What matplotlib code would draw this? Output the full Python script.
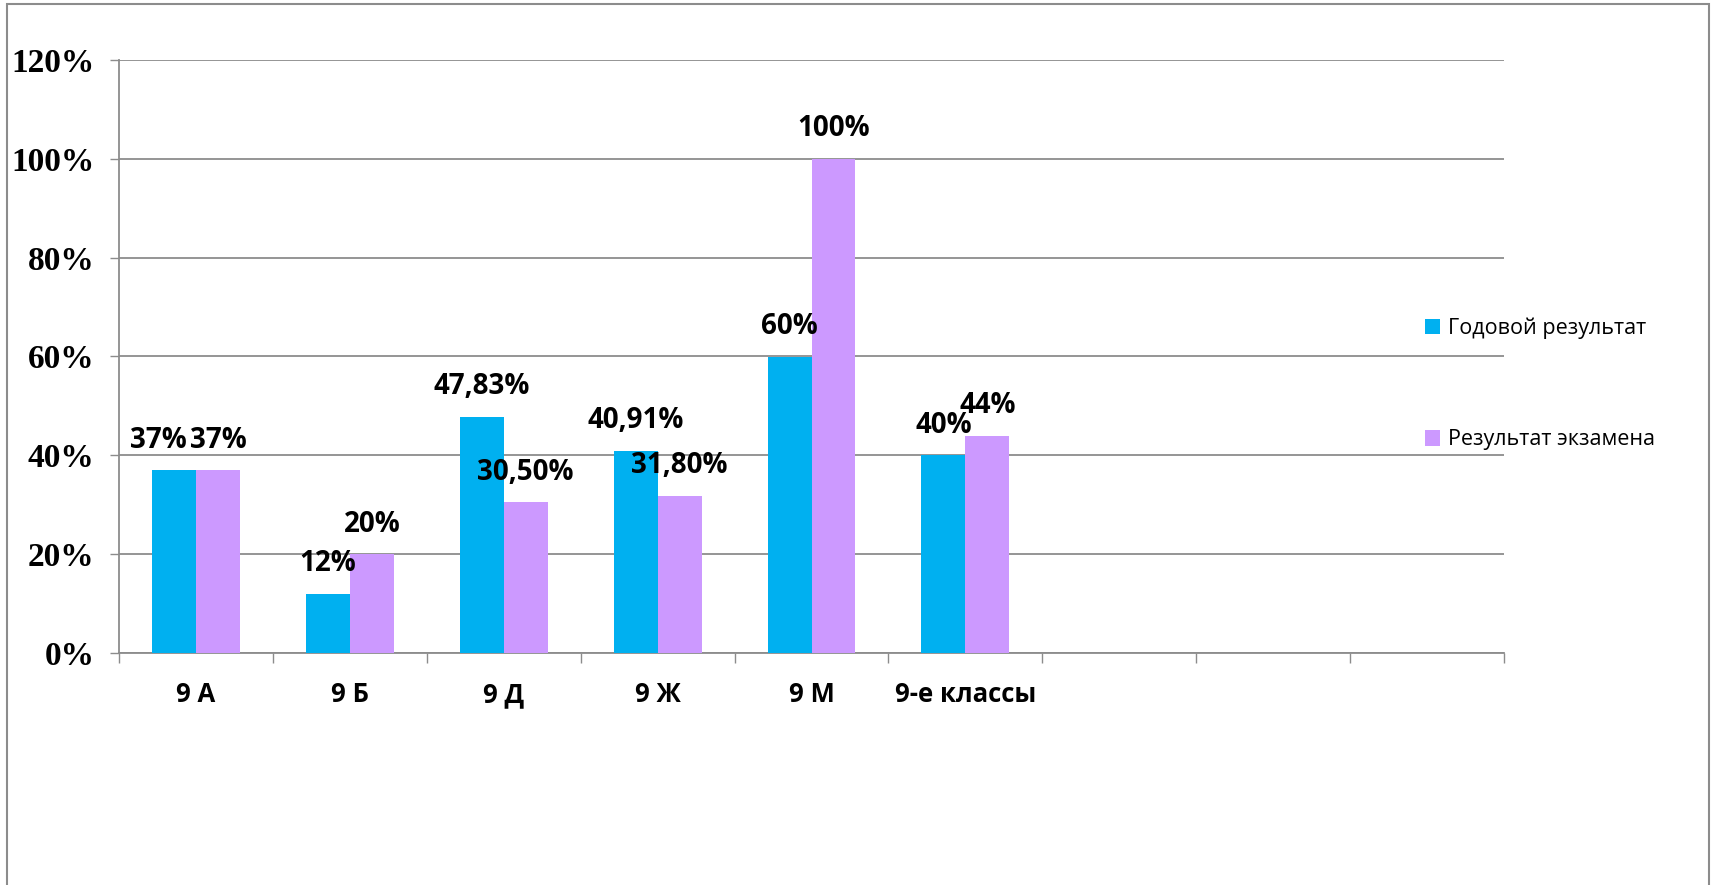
import matplotlib
matplotlib.use("Agg")
import numpy as np
from matplotlib import pyplot as plt
from matplotlib.patches import Rectangle
from matplotlib.ticker import FuncFormatter, MultipleLocator

# Chart data
categories = ["9 А", "9 Б", "9 Д", "9 Ж", "9 М", "9-е классы", "", "", ""]
year_result = [0.37, 0.12, 0.4783, 0.4091, 0.60, 0.40]
exam_result = [0.37, 0.20, 0.305, 0.318, 1.00, 0.44]
year_labels = ["37%", "12%", "47,83%", "40,91%", "60%", "40%"]
exam_labels = ["37%", "20%", "30,50%", "31,80%", "100%", "44%"]
series_names = ["Годовой результат", "Результат экзамена"]

BLUE = "#00B0F0"
PURPLE = "#CC99FF"
GRAY = "#8C8C8C"

W, H = 1717, 885
fig = plt.figure(figsize=(W / 100, H / 100), dpi=100)
ax = fig.add_axes([119 / W, 1 - 653 / H, (1504 - 119) / W, (653 - 60) / H])

# outer chart frame (bottom edge falls outside the picture)
fig.patches.append(Rectangle((7 / W, -0.05), (1709 - 7) / W, 1.05 - 4 / H,
                             transform=fig.transFigure, fill=False,
                             edgecolor=GRAY, linewidth=1.5))

n = len(categories)
x = np.arange(len(year_result))
bw = 44 / 154
bars1 = ax.bar(x - bw / 2, year_result, bw, color=BLUE, label=series_names[0], zorder=3)
bars2 = ax.bar(x + bw / 2, exam_result, bw, color=PURPLE, label=series_names[1], zorder=3)

# data labels above the bars (first one nudged left like the original)
label_font = dict(family=["Open Sans", "DejaVu Sans"], fontweight="bold", fontsize=20)
for i, (b, txt) in enumerate(zip(bars1, year_labels)):
    dx = -11.5 if i == 0 else 0
    ax.annotate(txt, (b.get_x() + b.get_width() / 2, b.get_height()),
                xytext=(dx, 21.6), textcoords="offset points",
                ha="center", va="center", **label_font)
for b, txt in zip(bars2, exam_labels):
    ax.annotate(txt, (b.get_x() + b.get_width() / 2, b.get_height()),
                xytext=(0, 21.6), textcoords="offset points",
                ha="center", va="center", **label_font)

ax.set_xlim(-0.5, n - 0.5)
ax.set_ylim(0, 1.2)
ax.yaxis.set_major_locator(MultipleLocator(0.2))
ax.yaxis.set_major_formatter(FuncFormatter(lambda v, _: f"{v * 100:.0f}%"))
ax.tick_params(axis="y", length=6.5, width=1, color=GRAY, pad=11,
               labelsize=24)
for lbl in ax.yaxis.get_ticklabels():
    lbl.set_fontfamily("Liberation Serif")
    lbl.set_fontweight("bold")

ax.set_xticks(np.arange(n), categories)
ax.set_xticks(np.arange(n + 1) - 0.5, minor=True)
ax.tick_params(axis="x", which="major", length=0, pad=20, labelsize=18.5)
ax.tick_params(axis="x", which="minor", length=7.2, width=1, color=GRAY)
for lbl in ax.xaxis.get_ticklabels():
    lbl.set_fontfamily(["Open Sans", "DejaVu Sans"])
    lbl.set_fontweight("bold")

ax.grid(axis="y", color=GRAY, linewidth=1.3, zorder=0)
ax.set_axisbelow(True)
for side in ("top", "right"):
    ax.spines[side].set_visible(False)
for side in ("left", "bottom"):
    ax.spines[side].set_color(GRAY)
    ax.spines[side].set_linewidth(1.3)

fig.legend(handles=[bars1, bars2], labels=series_names, loc="center left",
           bbox_to_anchor=(1414 / W, 1 - 384 / H), frameon=False,
           prop=dict(family=["Open Sans", "DejaVu Sans"], size=15.5),
           handlelength=0.72, handleheight=0.72, handletextpad=0.35,
           labelspacing=4.2, borderpad=0)

fig.savefig("out.png", dpi=100)
